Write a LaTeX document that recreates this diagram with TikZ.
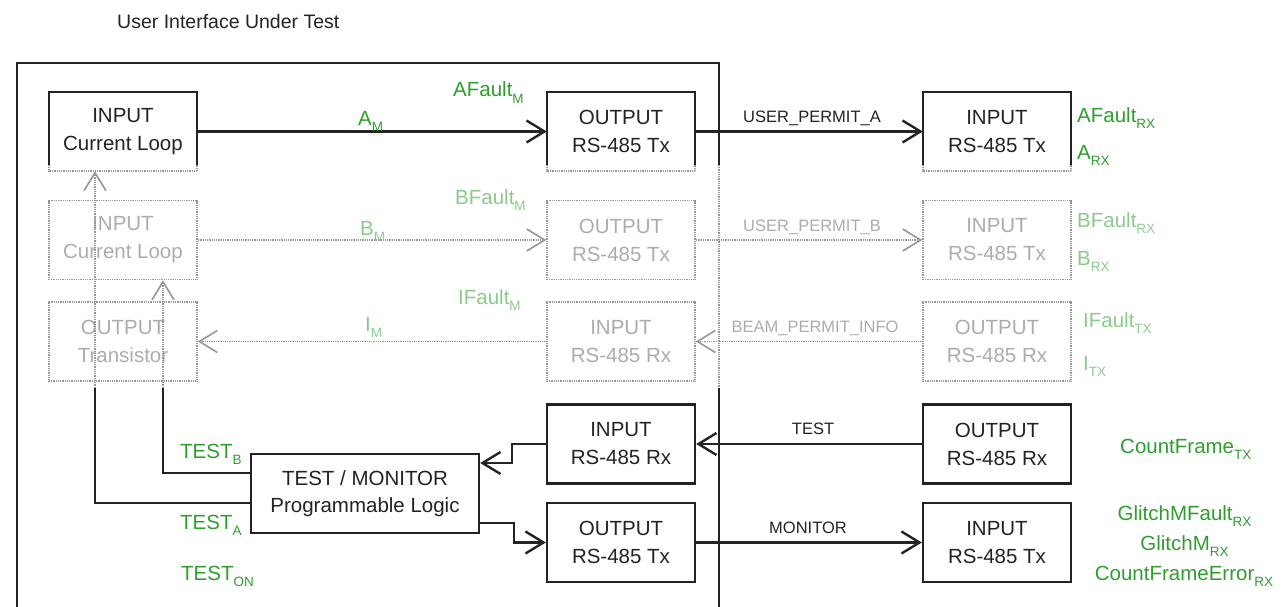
\documentclass[tikz,border=0pt]{standalone}
\usepackage{fontspec}
\setmainfont{Liberation Sans}
\usetikzlibrary{arrows.meta}

\definecolor{ink}{RGB}{35,35,35}
\definecolor{sig}{RGB}{46,158,46}
\definecolor{sigfaint}{RGB}{140,202,140}
\definecolor{faint}{RGB}{150,150,150}
\definecolor{fainttext}{RGB}{172,172,172}

% lowered, smaller subscript for signal names
\newcommand\lsub[1]{\raisebox{-0.3em}{\fontsize{13.5}{14}\selectfont #1}}

\tikzset{
  unit/.style={minimum width=148pt, minimum height=79pt, inner sep=0pt,
    align=center, text=ink, font=\fontsize{20.5}{28}\selectfont},
  box/.style={unit, draw=ink, line width=2.4pt},
  ghost/.style={unit, draw=faint, line width=1.6pt,
    dash pattern=on 0.9pt off 0.9pt, text=fainttext},
  wire/.style={draw=ink, line width=2.4pt},
  faintwire/.style={draw=faint, line width=1.6pt, dash pattern=on 0.9pt off 0.9pt},
  frame/.style={draw=ink, line width=2pt},
  barb/.style={-{Straight Barb[length=18pt,width=22pt]}},
  sigl/.style={text=sig, inner sep=0pt, font=\fontsize{20.5}{24}\selectfont},
  sigfl/.style={text=sigfaint, inner sep=0pt, font=\fontsize{20.5}{24}\selectfont},
  wirelabel/.style={text=ink, inner sep=0pt, font=\fontsize{16.5}{20}\selectfont},
  faintlabel/.style={text=fainttext, inner sep=0pt, font=\fontsize{16.5}{20}\selectfont},
}

\begin{document}
\begin{tikzpicture}[x=1pt,y=-1pt]
\useasboundingbox (0,0) rectangle (1284,607);

% title
\node[anchor=base west, inner sep=0pt, text=ink, font=\fontsize{19.5}{22}\selectfont]
  (title) at (117,29) {User Interface Under Test};

% enclosure of the unit under test
\draw[frame] (17,615) -- (17,63) -- (719,63) -- (719,165);
\draw[faintwire] (719,165) -- (719,388);
\draw[frame] (719,388) -- (719,615);

% ---- channel A (active) ----
\node[unit] (ainp) at (123,131.5) {INPUT\\Current Loop};
\node[unit] (aout) at (621,131.5) {OUTPUT\\RS-485 Tx};
\node[unit] (ain)  at (997,131.5) {INPUT\\RS-485 Tx};
\foreach \n in {ainp,aout,ain}{
  \draw[wire] ([yshift=6pt]\n.south west) -- (\n.north west) -- (\n.north east) -- ([yshift=6pt]\n.south east);
  \draw[faintwire] ([yshift=6pt]\n.south west) -- (\n.south west) -- (\n.south east) -- ([yshift=6pt]\n.south east);
}
\draw[wire,barb] (ainp.east) -- (aout.west);
\draw[wire,barb] (aout.east) -- (ain.west);
\node[sigl, anchor=base west] (lam) at (358,125) {A\lsub{M}};
\node[sigl, anchor=base west] (lafm) at (453,97) {AFault\lsub{M}};
\node[wirelabel, anchor=base] (lupa) at (812,123) {USER\_PERMIT\_A};
\node[sigl, anchor=base west] (lafrx) at (1077,122.5) {AFault\lsub{RX}};
\node[sigl, anchor=base west] (larx) at (1077,159.5) {A\lsub{RX}};

% ---- channel B (inactive) ----
\node[ghost] (binp) at (123,240) {INPUT\\Current Loop};
\node[ghost] (bout) at (621,240) {OUTPUT\\RS-485 Tx};
\node[ghost] (bin)  at (997,240) {INPUT\\RS-485 Tx};
\draw[faintwire,barb] (binp.east) -- (bout.west);
\draw[faintwire,barb] (bout.east) -- (bin.west);
\node[sigfl, anchor=base west] (lbm) at (360,235) {B\lsub{M}};
\node[sigfl, anchor=base west] (lbfm) at (455,204.5) {BFault\lsub{M}};
\node[faintlabel, anchor=base] (lupb) at (812,231) {USER\_PERMIT\_B};
\node[sigfl, anchor=base west] (lbfrx) at (1077,227.5) {BFault\lsub{RX}};
\node[sigfl, anchor=base west] (lbrx) at (1077,265.5) {B\lsub{RX}};

% ---- beam permit info (inactive) ----
\node[ghost] (itr)  at (123,341.5) {OUTPUT\\Transistor};
\node[ghost] (iin)  at (621,341.5) {INPUT\\RS-485 Rx};
\node[ghost] (iout) at (997,341.5) {OUTPUT\\RS-485 Rx};
\draw[faintwire,barb] (iout.west) -- (iin.east);
\draw[faintwire,barb] (iin.west) -- (itr.east);
\node[sigfl, anchor=base west] (lim) at (365,331) {I\lsub{M}};
\node[sigfl, anchor=base west] (lifm) at (458,304.5) {IFault\lsub{M}};
\node[faintlabel, anchor=base] (lbpi) at (815,332) {BEAM\_PERMIT\_INFO};
\node[sigfl, anchor=base west] (liftx) at (1083,327.5) {IFault\lsub{TX}};
\node[sigfl, anchor=base west] (litx) at (1083,370.5) {I\lsub{TX}};

% ---- test / monitor path ----
\node[box, minimum width=228pt] (tm) at (365,493.5) {TEST / MONITOR\\[-1pt]Programmable Logic};
\node[box] (inrx)  at (621,444)   {INPUT\\RS-485 Rx};
\node[box] (outtx) at (621,542.5) {OUTPUT\\RS-485 Tx};
\node[box] (outrx) at (997,444)   {OUTPUT\\RS-485 Rx};
\node[box] (intx)  at (997,542.5) {INPUT\\RS-485 Tx};

\draw[wire,barb] (outrx.west) -- (inrx.east);
\draw[wire,barb] (inrx.west) -- ++(-34,0) |- ([yshift=30.5pt]tm.east);
\draw[wire,barb] ([yshift=-29.5pt]tm.east) -- ++(34,0) |- (outtx.west);
\draw[wire,barb] (outtx.east) -- (intx.west);
\node[wirelabel, anchor=base] (ltest) at (813,434) {TEST};
\node[wirelabel, anchor=base] (lmon) at (808,533) {MONITOR};

% test injection lines into the current loop inputs
\coordinate (splitA) at (95,388);
\coordinate (splitB) at (163,388);
\draw[wire] ([yshift=-9.5pt]tm.west) -| (splitA);
\draw[faintwire,barb] (splitA) -- (splitA |- ainp.south);
\draw[wire] ([yshift=20.5pt]tm.west) -| (splitB);
\draw[faintwire,barb] (splitB) -- (splitB |- binp.south);

\node[sigl, anchor=base west] (ltb) at (180,458.5) {TEST\lsub{B}};
\node[sigl, anchor=base west] (lta) at (180,529.5) {TEST\lsub{A}};
\node[sigl, anchor=base west] (lton) at (181,580.5) {TEST\lsub{ON}};

\node[sigl, anchor=base west] (lcf) at (1120,453.5) {CountFrame\lsub{TX}};
\node[sigl, anchor=base] (lgmf) at (1184.5,520.5) {GlitchMFault\lsub{RX}};
\node[sigl, anchor=base] (lgm) at (1184.5,550.5) {GlitchM\lsub{RX}};
\node[sigl, anchor=base] (lcfe) at (1184,580.5) {CountFrameError\lsub{RX}};
\end{tikzpicture}
\end{document}
